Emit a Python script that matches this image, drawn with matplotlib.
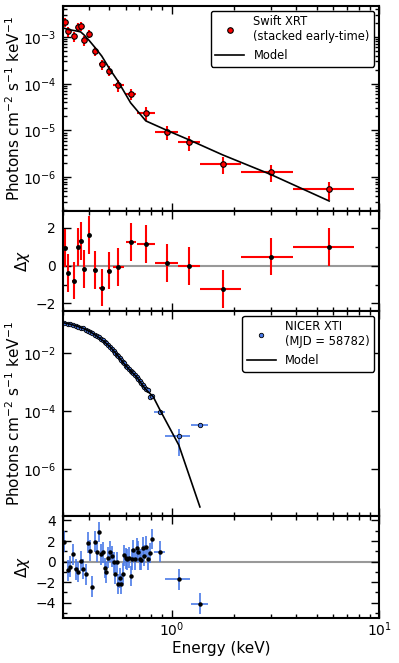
import numpy as np
import matplotlib.pyplot as plt
from matplotlib.ticker import LogLocator, MultipleLocator, NullLocator

# Swift XRT stacked early-time spectrum
xrt_e = [0.305, 0.318, 0.339, 0.355, 0.365, 0.380, 0.400, 0.427, 0.461, 0.500,
         0.554, 0.635, 0.752, 0.953, 1.215, 1.765, 3.00, 5.75]
xrt_elo = [0.300, 0.312, 0.332, 0.350, 0.360, 0.374, 0.394, 0.418, 0.446, 0.487,
           0.524, 0.603, 0.680, 0.834, 1.076, 1.368, 2.17, 3.84]
xrt_ehi = [0.310, 0.325, 0.346, 0.360, 0.370, 0.386, 0.406, 0.436, 0.476, 0.513,
           0.589, 0.674, 0.834, 1.076, 1.368, 2.17, 3.84, 7.6]
xrt_flux = [2.1e-3, 1.32e-3, 1.03e-3, 1.66e-3, 1.7e-3, 8.5e-4, 1.18e-3, 5.0e-4, 2.6e-4, 1.9e-4,
            9.3e-5, 6.1e-5, 2.4e-5, 9.3e-6, 5.6e-6, 1.96e-6, 1.3e-6, 5.7e-7]
xrt_ferr = [5e-4, 3e-4, 2.5e-4, 3.5e-4, 3.5e-4, 2e-4, 2.5e-4, 1e-4, 6e-5, 4.5e-5,
            2.5e-5, 1.7e-5, 8e-6, 3e-6, 2e-6, 8e-7, 5e-7, 2.4e-7]
xrt_model = [1.53e-3, 1.44e-3, 1.37e-3, 1.32e-3, 1.28e-3, 1.09e-3, 8.5e-4, 6.0e-4, 3.9e-4, 2.16e-4,
             1.1e-4, 3.9e-5, 1.6e-5, 1.0e-5, 6.3e-6, 3.0e-6, 1.15e-6, 3.1e-7]
xrt_resid = [0.92, -0.37, -0.79, 0.99, 1.32, -0.16, 1.64, -0.24, -1.16, -0.26,
             -0.085, 1.27, 1.15, 0.14, -0.03, -1.23, 0.48, 0.99]

# NICER XTI spectrum (MJD 58782)
nicer_e = [0.3045, 0.316, 0.3245, 0.3354, 0.3455, 0.3556, 0.3664, 0.3758, 0.386, 0.396,
           0.4047, 0.4137, 0.4264, 0.4357, 0.4457, 0.4556, 0.4658, 0.4764, 0.4848, 0.4956,
           0.5067, 0.518, 0.5262, 0.5355, 0.5457, 0.5537, 0.5642, 0.5724, 0.5834, 0.5918,
           0.603, 0.6117, 0.6255, 0.6352, 0.6444, 0.6538, 0.664, 0.6788, 0.6887, 0.7041,
           0.7143, 0.7255, 0.736, 0.7499, 0.7692, 0.7863, 0.8043, 0.878, 1.084, 1.37]
nicer_de = [0.004, 0.004, 0.004, 0.005, 0.005, 0.005, 0.005, 0.005, 0.005, 0.005,
            0.005, 0.005, 0.005, 0.005, 0.005, 0.005, 0.005, 0.005, 0.005, 0.005,
            0.006, 0.006, 0.006, 0.006, 0.006, 0.006, 0.006, 0.006, 0.006, 0.006,
            0.007, 0.007, 0.007, 0.007, 0.007, 0.007, 0.007, 0.007, 0.007, 0.007,
            0.008, 0.008, 0.008, 0.008, 0.009, 0.009, 0.009, 0.053, 0.15, 0.133]
nicer_flux = [0.112, 0.106, 0.102, 0.0955, 0.089, 0.083, 0.0776, 0.0724, 0.066, 0.060,
              0.0556, 0.050, 0.0437, 0.0398, 0.0355, 0.0316, 0.0279, 0.0245, 0.0219, 0.0191,
              0.0166, 0.0141, 0.0120, 0.0105, 9.1e-3, 7.9e-3, 6.8e-3, 5.9e-3, 5.1e-3, 4.6e-3,
              3.8e-3, 3.4e-3, 2.9e-3, 2.5e-3, 2.3e-3, 2.1e-3, 1.86e-3, 1.55e-3, 1.35e-3, 1.12e-3,
              9.5e-4, 8.3e-4, 6.9e-4, 5.8e-4, 5.6e-4, 3.2e-4, 3.5e-4, 9.5e-5, 1.4e-5, 3.5e-5]
nicer_ferr_rel = [0.03, 0.03, 0.03, 0.03, 0.03, 0.03, 0.03, 0.03, 0.03, 0.03,
                  0.03, 0.03, 0.03, 0.03, 0.03, 0.04, 0.04, 0.04, 0.04, 0.04,
                  0.05, 0.05, 0.05, 0.05, 0.05, 0.05, 0.05, 0.05, 0.05, 0.05,
                  0.06, 0.06, 0.06, 0.06, 0.06, 0.07, 0.07, 0.07, 0.07, 0.08,
                  0.08, 0.09, 0.09, 0.1, 0.1, 0.12, 0.12, 0.2, 0.8, 0.15]
nicer_resid = [1.94, -0.84, -0.48, 0.71, -0.74, -1.0, 0.06, -0.71, -1.23, 1.85,
               1.07, -2.43, 1.94, 0.97, 2.88, 0.71, 0.9, -0.64, -1.03, 0.39,
               0.97, 0.52, -0.06, -1.16, -0.06, -2.17, -1.58, -2.17, -1.16, 0.62,
               0.32, 0.22, 0.39, -1.39, 0.22, 1.13, 0.22, 1.30, 0.97, 0.22,
               0.19, 1.36, 0.58, 1.46, 0.22, 0.84, 2.18, 0.97, -1.71, -4.08]
nicer_model_e = [0.3016, 0.324, 0.349, 0.376, 0.405, 0.436, 0.469, 0.505, 0.544, 0.585,
                 0.630, 0.679, 0.730, 0.758, 0.816, 0.878, 1.084, 1.37]
nicer_model = [0.1135, 0.102, 0.0871, 0.0724, 0.0556, 0.0398, 0.0269, 0.0170, 0.00933, 0.00479,
               0.00263, 0.00155, 7.4e-4, 5.4e-4, 3.2e-4, 1.15e-4, 6.9e-6, 5.1e-8]

plt.rcParams['font.family'] = 'DejaVu Sans'
plt.rcParams['axes.linewidth'] = 1.5

fig, axes = plt.subplots(4, 1, figsize=(3.99, 6.63), dpi=100, sharex=True,
                         gridspec_kw={'height_ratios': [2.05, 1.0, 2.05, 1.02]})
fig.subplots_adjust(left=0.158, right=0.95, top=0.991, bottom=0.068, hspace=0)
ax1, ax2, ax3, ax4 = axes

xrt_e = np.array(xrt_e)
xrt_xerr = [xrt_e - np.array(xrt_elo), np.array(xrt_ehi) - xrt_e]
red = '#ff0000'
blue = '#4a7ae8'

# Swift spectrum
ax1.errorbar(xrt_e, xrt_flux, xerr=xrt_xerr, yerr=xrt_ferr, fmt='none',
             ecolor=red, elinewidth=1.5, capsize=0)
ax1.plot(xrt_e, xrt_flux, 'o', color=red, mec='k', mew=0.8, ms=4,
         label='Swift XRT\n(stacked early-time)')
ax1.plot(xrt_e, xrt_model, 'k-', lw=1.2, label='Model')
ax1.set_yscale('log')
ax1.set_ylim(1.9e-7, 4.6e-3)
ax1.legend(loc='upper right', fontsize=8.3, numpoints=1, handlelength=2.5,
           framealpha=1, edgecolor='k', borderaxespad=0.4)

# Swift residuals
ax2.axhline(0, color='0.6', lw=1.5, zorder=0)
ax2.errorbar(xrt_e, xrt_resid, xerr=xrt_xerr, yerr=1.0, fmt='o', color='k', ms=2.5,
             ecolor=red, elinewidth=1.5, capsize=0)
ax2.set_ylim(-2.4, 2.9)
ax2.yaxis.set_major_locator(MultipleLocator(2))
ax2.yaxis.set_minor_locator(MultipleLocator(1))

# NICER spectrum
nicer_flux = np.array(nicer_flux)
nicer_ferr = nicer_flux * np.array(nicer_ferr_rel)
ax3.errorbar(nicer_e, nicer_flux, xerr=nicer_de, yerr=nicer_ferr, fmt='none',
             ecolor=blue, elinewidth=1.2, capsize=0)
ax3.plot(nicer_e, nicer_flux, 'o', color=blue, mec='k', mew=0.6, ms=3.2,
         label='NICER XTI\n(MJD = 58782)')
ax3.plot(nicer_model_e, nicer_model, 'k-', lw=1.2, label='Model')
ax3.set_yscale('log')
ax3.set_ylim(2.5e-8, 0.29)
ax3.yaxis.set_major_locator(LogLocator(base=100.0))
ax3.yaxis.set_minor_locator(NullLocator())
ax3.legend(loc='upper right', fontsize=8.3, numpoints=1, handlelength=2.5,
           framealpha=1, edgecolor='k', borderaxespad=0.4)

# NICER residuals
ax4.axhline(0, color='0.6', lw=1.5, zorder=0)
ax4.errorbar(nicer_e, nicer_resid, xerr=nicer_de, yerr=1.0, fmt='o', color='k', ms=2.2,
             ecolor=blue, elinewidth=1.2, capsize=0)
ax4.set_ylim(-5.47, 4.44)
ax4.yaxis.set_major_locator(MultipleLocator(2))
ax4.yaxis.set_minor_locator(MultipleLocator(1))

ax4.set_xscale('log')
ax4.set_xlim(0.3, 10)
ax4.set_xlabel('Energy (keV)', fontsize=11, labelpad=1)

for ax in axes:
    ax.tick_params(which='both', direction='in', top=True, right=True, labelsize=10)
    ax.tick_params(which='major', length=6, width=1)
    ax.tick_params(which='minor', length=3, width=1)
    ax.tick_params(axis='y', pad=5)
    ax.tick_params(axis='x', pad=2)

for ax in (ax1, ax3):
    ax.set_ylabel(r'Photons cm$^{-2}$ s$^{-1}$ keV$^{-1}$', fontsize=11)
    ax.yaxis.set_label_coords(-0.128, 0.5)
for ax in (ax2, ax4):
    ax.set_ylabel(r'$\Delta\chi$', fontsize=11)
    ax.yaxis.set_label_coords(-0.098, 0.5)

fig.savefig('out.png', dpi=100)
